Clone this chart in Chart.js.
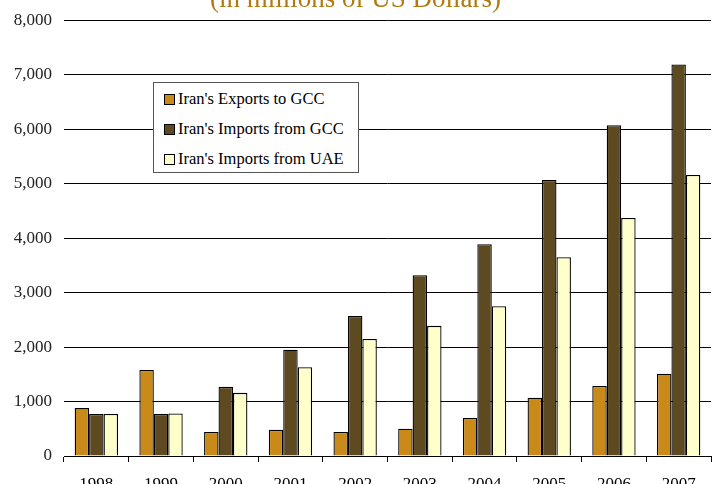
<!DOCTYPE html>
<html lang="en">
<head>
<meta charset="UTF-8">
<title>Iran trade with GCC</title>
<script src="https://cdn.jsdelivr.net/npm/chart.js@4.4.1/dist/chart.umd.min.js"></script>
<style>
  html, body { margin: 0; padding: 0; background: #fff; overflow: hidden; }
  #wrap { position: absolute; left: 0; top: -22px; width: 717px; height: 522px; }
  #legend {
    position: absolute; left: 153px; top: 82px; width: 204px; height: 89px;
    border: 1px solid #555; background: #fff;
    font-family: "Liberation Serif", "DejaVu Serif", serif; font-size: 16.5px; color: #000;
  }
  #legend .item { position: absolute; left: 10px; white-space: nowrap; line-height: 16px; }
  #legend .sw { display: inline-block; width: 9px; height: 9px; border: 1px solid #000; margin-right: 3px; vertical-align: -1px; }
</style>
</head>
<body>
<div id="wrap"><canvas id="grafica" width="717" height="522"></canvas></div>
<div id="legend"></div>
<script>
// datos (millones de USD)
const years = ['1998', '1999', '2000', '2001', '2002', '2003', '2004', '2005', '2006', '2007'];
const exportsGCC = [880, 1580, 440, 480, 440, 500, 700, 1070, 1285, 1510];
const importsGCC = [770, 770, 1270, 1950, 2570, 3320, 3890, 5070, 6075, 7190];
const importsUAE = [770, 780, 1160, 1630, 2150, 2390, 2750, 3650, 4370, 5160];
const seriesNames = ["Iran's Exports to GCC", "Iran's Imports from GCC", "Iran's Imports from UAE"];
const seriesColors = ['#C98A1A', '#5E4A20', '#FFFFCC'];

const serif = '"Liberation Serif", "DejaVu Serif", serif';

const datasets = [exportsGCC, importsGCC, importsUAE].map((vals, i) => ({
  label: seriesNames[i],
  data: vals,
  backgroundColor: seriesColors[i],
  borderColor: '#000',
  borderWidth: 1.3,
  borderSkipped: 'bottom'
}));

const ctx = document.getElementById('grafica').getContext('2d');
const chart = new Chart(ctx, {
  type: 'bar',
  data: { labels: years, datasets: datasets },
  options: {
    responsive: false,
    animation: false,
    layout: { padding: { left: 0, right: 6, top: 0, bottom: 0 } },
    plugins: {
      legend: { display: false },
      tooltip: { enabled: false },
      title: {
        display: true,
        text: '(in millions of US Dollars)',
        color: '#B07A10',
        font: { family: serif, size: 27, weight: 'normal' },
        padding: { top: 6, bottom: 4 }
      }
    },
    datasets: { bar: { categoryPercentage: 0.67, barPercentage: 1.0 } },
    scales: {
      x: {
        grid: { offset: true, drawOnChartArea: false, color: '#000', tickLength: 6, tickColor: '#000' },
        border: { color: '#000', width: 1 },
        ticks: { color: '#000', font: { family: serif, size: 17 }, padding: 12 },
        afterFit: s => { s.height = 44; }
      },
      y: {
        min: 0, max: 8000,
        grid: { color: '#000', drawTicks: false },
        border: { display: false },
        ticks: {
          stepSize: 1000,
          color: '#222',
          padding: 12,
          font: { family: serif, size: 17 },
          callback: v => v.toLocaleString('en-US')
        },
        afterFit: s => { s.width = 64; }
      }
    }
  }
});

// leyenda en HTML dentro del area del grafico
const legendDiv = document.getElementById('legend');
seriesNames.forEach((name, i) => {
  const item = document.createElement('div');
  item.className = 'item';
  item.style.top = (8 + i * 30) + 'px';
  item.innerHTML = '<span class="sw" style="background:' + seriesColors[i] + '"></span>' + name;
  legendDiv.appendChild(item);
});
</script>
</body>
</html>
